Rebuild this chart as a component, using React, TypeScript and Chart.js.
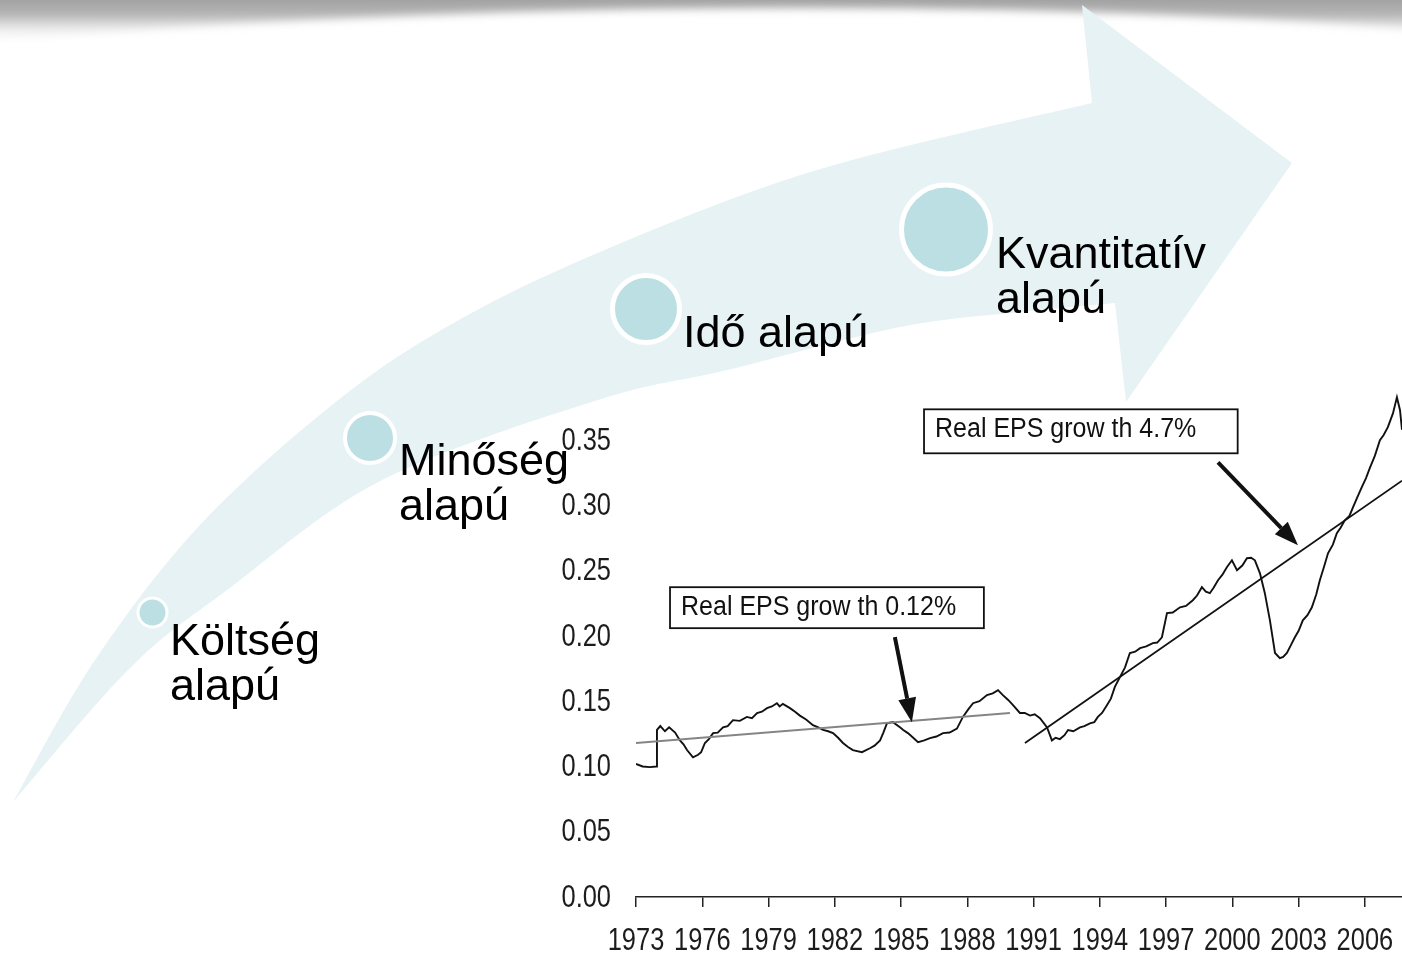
import React, { useEffect, useRef } from 'react';
import { Chart, registerables } from 'chart.js';

Chart.register(...registerables);

// ---------- data ----------
const yearTicks = [1973, 1976, 1979, 1982, 1985, 1988, 1991, 1994, 1997, 2000, 2003, 2006];
const valueTicks = [0, 0.05, 0.1, 0.15, 0.2, 0.25, 0.3, 0.35];

const epsYears = [
  1973.0, 1973.3, 1973.63, 1973.91, 1973.95, 1974.1, 1974.31, 1974.5, 1974.77, 1974.99,
  1975.15, 1975.31, 1975.58, 1975.81, 1975.95, 1976.12, 1976.3, 1976.49, 1976.7, 1976.94,
  1977.15, 1977.39, 1977.7, 1978.02, 1978.25, 1978.48, 1978.7, 1978.93, 1979.15, 1979.38,
  1979.5, 1979.65, 1979.97, 1980.2, 1980.42, 1980.7, 1981.01, 1981.25, 1981.47, 1981.7,
  1981.92, 1982.15, 1982.37, 1982.6, 1982.82, 1983.23, 1983.59, 1983.8, 1984.05, 1984.2,
  1984.36, 1984.63, 1984.95, 1985.1, 1985.31, 1985.55, 1985.77, 1986.05, 1986.31, 1986.6,
  1986.9, 1987.2, 1987.53, 1987.8, 1988.05, 1988.26, 1988.55, 1988.89, 1989.15, 1989.39,
  1989.61, 1989.85, 1990.07, 1990.38, 1990.6, 1990.84, 1991.05, 1991.29, 1991.61, 1991.83,
  1992.0, 1992.19, 1992.4, 1992.56, 1992.8, 1993.1, 1993.3, 1993.55, 1993.75, 1993.91,
  1994.1, 1994.32, 1994.5, 1994.68, 1994.91, 1995.14, 1995.36, 1995.6, 1995.82, 1996.1,
  1996.4, 1996.6, 1996.81, 1997.04, 1997.3, 1997.63, 1997.9, 1998.21, 1998.4, 1998.62,
  1998.8, 1998.98, 1999.15, 1999.35, 1999.55, 1999.75, 1999.98, 2000.21, 2000.45, 2000.66,
  2000.85, 2001.02, 2001.25, 2001.47, 2001.7, 2001.93, 2002.15, 2002.3, 2002.47, 2002.65,
  2002.83, 2003.0, 2003.19, 2003.4, 2003.6, 2003.8, 2003.96, 2004.15, 2004.33, 2004.55,
  2004.73, 2004.9, 2005.09, 2005.3, 2005.46, 2005.65, 2005.86, 2006.05, 2006.23, 2006.45,
  2006.68, 2006.85, 2007.04, 2007.27, 2007.45, 2007.59, 2007.68,
];
const epsValues = [
  0.102, 0.1, 0.0995, 0.1, 0.128, 0.131, 0.127, 0.13, 0.126, 0.12,
  0.117, 0.1126, 0.107, 0.109, 0.111, 0.118, 0.121, 0.1256, 0.126, 0.13,
  0.131, 0.1355, 0.135, 0.138, 0.137, 0.141, 0.142, 0.1447, 0.146, 0.1485,
  0.146, 0.148, 0.1447, 0.142, 0.139, 0.136, 0.1317, 0.13, 0.128, 0.127,
  0.1256, 0.122, 0.118, 0.115, 0.1126, 0.111, 0.114, 0.116, 0.12, 0.126,
  0.133, 0.134, 0.13, 0.128, 0.1256, 0.122, 0.1187, 0.12, 0.1217, 0.123,
  0.1256, 0.126, 0.129, 0.138, 0.144, 0.1485, 0.15, 0.1547, 0.156, 0.1585,
  0.1547, 0.151, 0.147, 0.141, 0.141, 0.139, 0.14, 0.137, 0.13, 0.12,
  0.122, 0.121, 0.124, 0.128, 0.127, 0.13, 0.131, 0.133, 0.134, 0.138,
  0.141, 0.147, 0.152, 0.161, 0.1685, 0.176, 0.187, 0.188, 0.1907, 0.192,
  0.1945, 0.195, 0.199, 0.2175, 0.218, 0.222, 0.223, 0.2274, 0.231, 0.2374,
  0.234, 0.2328, 0.237, 0.2427, 0.247, 0.2527, 0.258, 0.2504, 0.254, 0.2596,
  0.26, 0.258, 0.248, 0.2328, 0.212, 0.187, 0.183, 0.184, 0.187, 0.193,
  0.199, 0.204, 0.212, 0.216, 0.222, 0.232, 0.2427, 0.253, 0.2634, 0.27,
  0.2787, 0.283, 0.2887, 0.292, 0.2986, 0.306, 0.314, 0.321, 0.329, 0.338,
  0.35, 0.354, 0.36, 0.3706, 0.383, 0.373, 0.358,
];

const trendLowYears = [1973, 1989.93];
const trendLowValues = [0.118, 0.141];
const trendHighYears = [1990.61, 2007.68];
const trendHighValues = [0.118, 0.319];

const noteTexts = ['Real EPS grow th 0.12%', 'Real EPS grow th 4.7%'];
const noteYearFrom = [1974.54, 1986.04];
const noteYearTo = [1988.75, 2000.24];
const noteValueTop = [0.2374, 0.3737];
const noteValueBottom = [0.206, 0.34];

const arrowFromYears = [1984.72, 1999.35];
const arrowFromValues = [0.1991, 0.3331];
const arrowToYears = [1985.49, 2002.97];
const arrowToValues = [0.134, 0.2695];

const stageLabels = [['Költség', 'alapú'], ['Minőség', 'alapú'], ['Idő alapú'], ['Kvantitatív', 'alapú']];

// ---------- decoration helpers ----------
function smoothPath(pts: number[][], move: boolean) {
  let d = (move ? 'M' : 'L') + pts[0][0] + ',' + pts[0][1];
  for (let i = 0; i < pts.length - 1; i++) {
    const p0 = pts[i - 1] || pts[i];
    const p1 = pts[i];
    const p2 = pts[i + 1];
    const p3 = pts[i + 2] || p2;
    const c1x = p1[0] + (p2[0] - p0[0]) / 6;
    const c1y = p1[1] + (p2[1] - p0[1]) / 6;
    const c2x = p2[0] - (p3[0] - p1[0]) / 6;
    const c2y = p2[1] - (p3[1] - p1[1]) / 6;
    d += ` C${c1x},${c1y} ${c2x},${c2y} ${p2[0]},${p2[1]}`;
  }
  return d;
}

const upperEdge = [[13, 802], [95, 660], [200, 525], [332, 405], [450, 325], [600, 252], [817, 170], [1092, 103]];
const lowerEdge = [[1115, 303], [1020, 312], [900, 327], [727, 370], [598, 400], [382, 480], [227, 590], [130, 668], [13, 802]];
const bandPath =
  smoothPath(upperEdge, true) + ' L1082,5 L1292,163 L1126,402 ' + smoothPath(lowerEdge, false) + ' Z';

const circles = [
  { cx: 152.5, cy: 612.5, r: 13, ring: 3 },
  { cx: 370, cy: 438, r: 23, ring: 4 },
  { cx: 646, cy: 309, r: 31, ring: 5 },
  { cx: 946, cy: 229.5, r: 42, ring: 5 },
];
const labelPos = [
  { left: 170, base: 655 },
  { left: 399, base: 475 },
  { left: 683, base: 347 },
  { left: 996, base: 268 },
];

const TEXT_FONT = '"Liberation Sans", Arial, Helvetica, sans-serif';
const TICK_SIZE = 31;
const TICK_SQUEEZE = 0.82;

// draws the scale's own tick labels in a condensed face (no narrow font installed)
const condensedTicksPlugin = {
  id: 'condensedTicks',
  afterDraw(chart: any) {
    const { ctx, chartArea } = chart;
    const x = chart.scales.x;
    const y = chart.scales.y;
    ctx.save();
    ctx.fillStyle = '#1c1c1c';
    ctx.font = TICK_SIZE + 'px ' + TEXT_FONT;
    ctx.textBaseline = 'middle';
    x.ticks.forEach((t: any) => {
      const px = x.getPixelForValue(t.value);
      ctx.save();
      ctx.translate(px, chartArea.bottom + 44);
      ctx.scale(TICK_SQUEEZE, 1);
      ctx.textAlign = 'center';
      ctx.fillText(String(t.value), 0, 0);
      ctx.restore();
    });
    y.ticks.forEach((t: any) => {
      const py = y.getPixelForValue(t.value);
      ctx.save();
      ctx.translate(chartArea.left - 25, py + 1);
      ctx.scale(TICK_SQUEEZE, 1);
      ctx.textAlign = 'right';
      ctx.fillText(Number(t.value).toFixed(2), 0, 0);
      ctx.restore();
    });
    ctx.restore();
  },
};

const notesPlugin = {
  id: 'notes',
  afterDatasetsDraw(chart: any) {
    const { ctx } = chart;
    const x = chart.scales.x;
    const y = chart.scales.y;
    ctx.save();
    for (let i = 0; i < noteTexts.length; i++) {
      const l = x.getPixelForValue(noteYearFrom[i]);
      const r = x.getPixelForValue(noteYearTo[i]);
      const t = y.getPixelForValue(noteValueTop[i]);
      const b = y.getPixelForValue(noteValueBottom[i]);
      ctx.fillStyle = '#ffffff';
      ctx.fillRect(l, t, r - l, b - t);
      ctx.strokeStyle = '#111';
      ctx.lineWidth = 1.8;
      ctx.strokeRect(l, t, r - l, b - t);
      ctx.fillStyle = '#111';
      ctx.font = '25px ' + TEXT_FONT;
      ctx.textAlign = 'left';
      ctx.textBaseline = 'alphabetic';
      ctx.save();
      ctx.translate(l + 11, t + 28);
      ctx.scale(1.0, 1.08);
      ctx.fillText(noteTexts[i], 0, 0);
      ctx.restore();
    }
    for (let i = 0; i < arrowFromYears.length; i++) {
      const x0 = x.getPixelForValue(arrowFromYears[i]);
      const y0 = y.getPixelForValue(arrowFromValues[i]);
      const x1 = x.getPixelForValue(arrowToYears[i]);
      const y1 = y.getPixelForValue(arrowToValues[i]);
      const ang = Math.atan2(y1 - y0, x1 - x0);
      const hl = 24;
      const hw = 9;
      const bx = x1 - hl * Math.cos(ang);
      const by = y1 - hl * Math.sin(ang);
      ctx.strokeStyle = '#111';
      ctx.lineWidth = 4;
      ctx.lineCap = 'butt';
      ctx.beginPath();
      ctx.moveTo(x0, y0);
      ctx.lineTo(bx, by);
      ctx.stroke();
      ctx.fillStyle = '#111';
      ctx.beginPath();
      ctx.moveTo(x1, y1);
      ctx.lineTo(bx + hw * Math.sin(ang), by - hw * Math.cos(ang));
      ctx.lineTo(bx - hw * Math.sin(ang), by + hw * Math.cos(ang));
      ctx.closePath();
      ctx.fill();
    }
    ctx.restore();
  },
};

export default function App() {
  const canvasRef = useRef<HTMLCanvasElement | null>(null);

  useEffect(() => {
    if (!canvasRef.current) return;
    const toPts = (xs: number[], ys: number[]) => xs.map((v, i) => ({ x: v, y: ys[i] }));
    const chart = new Chart(canvasRef.current, {
      type: 'line',
      data: {
        datasets: [
          {
            data: toPts(trendLowYears, trendLowValues),
            borderColor: '#858585',
            borderWidth: 1.8,
            pointRadius: 0,
          },
          {
            data: toPts(epsYears, epsValues),
            borderColor: '#111',
            borderWidth: 1.9,
            pointRadius: 0,
            tension: 0,
          },
          {
            data: toPts(trendHighYears, trendHighValues),
            borderColor: '#111',
            borderWidth: 1.8,
            pointRadius: 0,
          },
        ],
      },
      options: {
        animation: false,
        responsive: false,
        maintainAspectRatio: false,
        events: [],
        layout: { padding: { left: 0, right: 0, top: 375, bottom: 0 } },
        plugins: { legend: { display: false }, tooltip: { enabled: false } },
        scales: {
          x: {
            type: 'linear',
            min: 1973,
            max: 2007.68,
            afterBuildTicks: (ax: any) => {
              ax.ticks = yearTicks.map((v) => ({ value: v }));
            },
            afterFit: (ax: any) => {
              ax.height = 69;
              ax.paddingLeft = 0;
              ax.paddingRight = 0;
            },
            grid: {
              display: true,
              drawOnChartArea: false,
              drawTicks: true,
              tickLength: 10,
              color: '#222',
              lineWidth: 1.5,
            },
            border: { display: true, color: '#222', width: 1.6 },
            ticks: { display: false, autoSkip: false, maxRotation: 0 },
          },
          y: {
            type: 'linear',
            min: 0,
            max: 0.4,
            afterBuildTicks: (ax: any) => {
              ax.ticks = valueTicks.map((v) => ({ value: v }));
            },
            afterFit: (ax: any) => {
              ax.width = 636;
            },
            grid: { display: false, drawTicks: false },
            border: { display: false },
            ticks: { display: false },
          },
        },
      },
      plugins: [notesPlugin, condensedTicksPlugin],
    } as any);
    return () => chart.destroy();
  }, []);

  const fontSize = 45;
  const lineH = 45;
  const baseOff = lineH / 2 + 0.3465 * fontSize;

  return (
    <div
      style={{
        position: 'fixed',
        left: 0,
        top: 0,
        width: 1402,
        height: 966,
        overflow: 'hidden',
        background: '#ffffff',
      }}
    >
      <svg width={1402} height={966} style={{ position: 'absolute', left: 0, top: 0 }}>
        <defs>
          <linearGradient id="topShade" x1="0" y1="0" x2="0" y2="1">
            <stop offset="0" stopColor="#8c8c8c" />
            <stop offset="0.55" stopColor="#b5b5b5" />
            <stop offset="1" stopColor="#ffffff" stopOpacity="0" />
          </linearGradient>
          <filter id="soft" x="-10%" y="-50%" width="120%" height="200%">
            <feGaussianBlur stdDeviation="4" />
          </filter>
        </defs>
        <path
          d="M-30,-20 L1432,-20 L1432,30 Q1250,16 1000,10 Q700,4 400,16 Q150,26 -30,44 Z"
          fill="url(#topShade)"
          filter="url(#soft)"
        />
        <path d={bandPath} fill="#e6f2f4" />
        {circles.map((c, i) => (
          <circle
            key={i}
            cx={c.cx}
            cy={c.cy}
            r={c.r + c.ring / 2}
            fill="#bbdfe3"
            stroke="#ffffff"
            strokeWidth={c.ring}
          />
        ))}
      </svg>
      <canvas
        ref={canvasRef}
        width={1402}
        height={966}
        style={{ position: 'absolute', left: 0, top: 0, width: 1402, height: 966 }}
      />
      {stageLabels.map((lines, i) => (
        <div
          key={i}
          style={{
            position: 'absolute',
            left: labelPos[i].left,
            top: labelPos[i].base - baseOff,
            fontFamily: TEXT_FONT,
            fontSize,
            lineHeight: lineH + 'px',
            color: '#000',
            whiteSpace: 'pre',
          }}
        >
          {lines.join('\n')}
        </div>
      ))}
    </div>
  );
}
